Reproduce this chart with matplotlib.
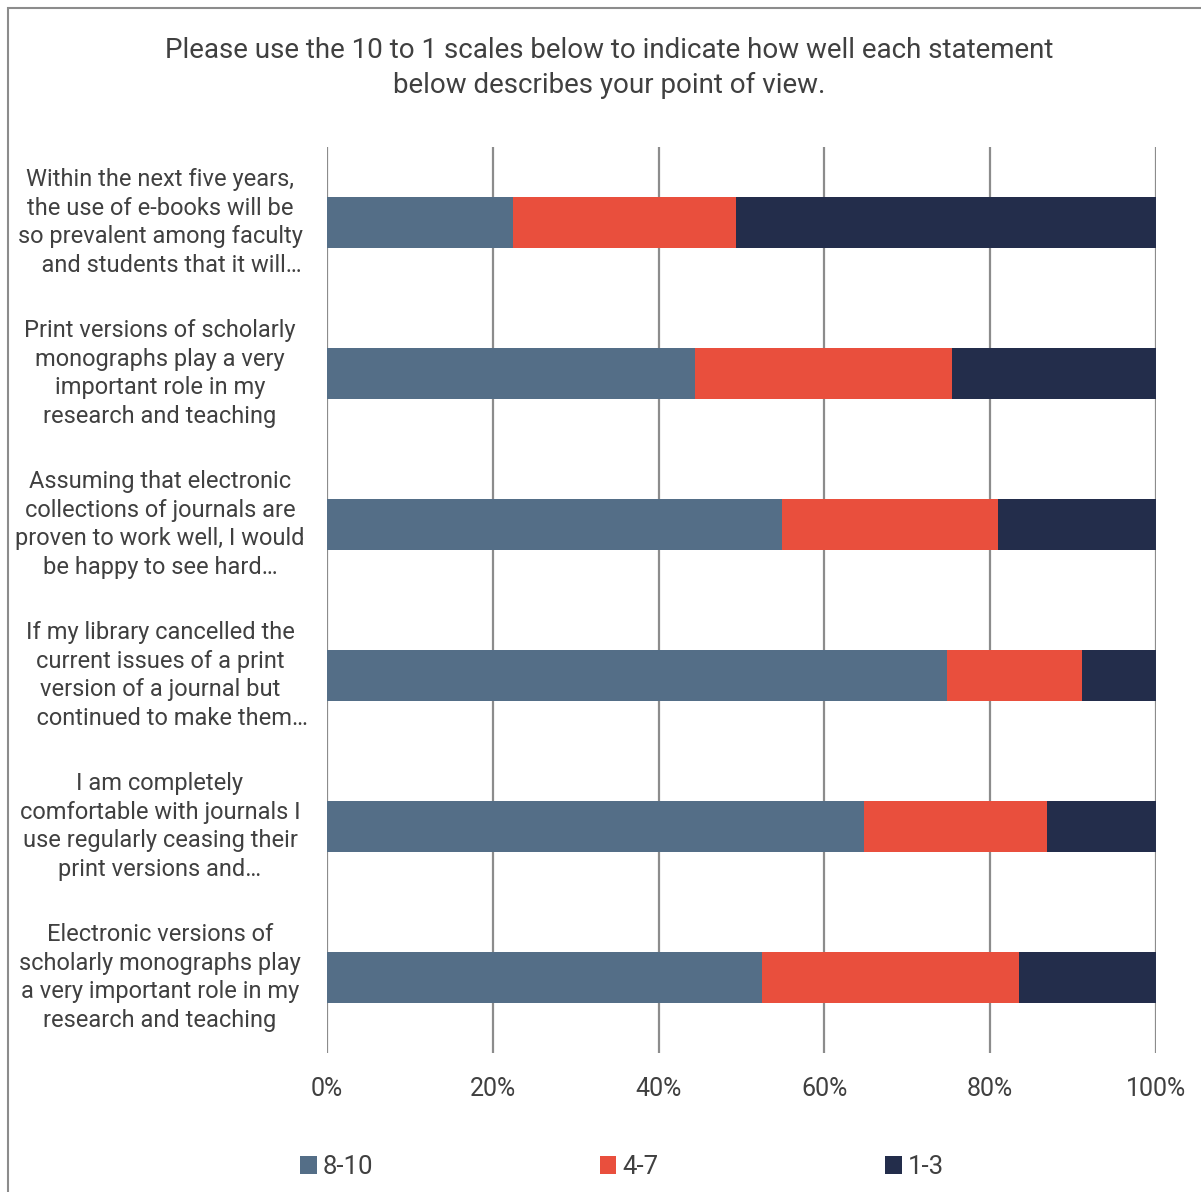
import matplotlib.pyplot as plt
import matplotlib.patches as mpatches
import numpy as np
from matplotlib import font_manager

fams = [f.name for f in font_manager.fontManager.ttflist]
narrow = 'Liberation Sans Narrow' if 'Liberation Sans Narrow' in fams else 'Roboto'
plt.rcParams['font.family'] = [narrow, 'DejaVu Sans']

title = ('Please use the 10 to 1 scales below to indicate how well each statement\n'
         'below describes your point of view.')

statements = [
    'Within the next five years,\nthe use of e-books will be\nso prevalent among faculty\n    and students that it will…',
    'Print versions of scholarly\nmonographs play a very\nimportant role in my\nresearch and teaching',
    'Assuming that electronic\ncollections of journals are\nproven to work well, I would\nbe happy to see hard…',
    'If my library cancelled the\ncurrent issues of a print\nversion of a journal but\n    continued to make them…',
    'I am completely\ncomfortable with journals I\nuse regularly ceasing their\nprint versions and…',
    'Electronic versions of\nscholarly monographs play\na very important role in my\nresearch and teaching',
]
series = ['8-10', '4-7', '1-3']
high = [22.4, 44.4, 54.9, 74.8, 64.8, 52.5]
mid = [26.9, 31.0, 26.0, 16.3, 22.1, 31.0]
low = [50.7, 24.6, 19.1, 8.9, 13.1, 16.5]
colors = ['#546e87', '#e94f3d', '#232d4b']
text_col = '#404040'

fig = plt.figure(figsize=(12.01, 11.92), dpi=100)
ax = fig.add_axes([327 / 1201, 139 / 1192, 829 / 1201, 906 / 1192])

y = np.arange(len(statements))
left = np.zeros(len(statements))
for name, vals, c in zip(series, [high, mid, low], colors):
    ax.barh(y, vals, left=left, height=0.34, color=c, label=name, zorder=2)
    left = left + np.array(vals)

ax.set_xlim(0, 100)
ax.set_ylim(len(statements) - 0.5, -0.5)
ax.set_xticks(np.arange(0, 101, 20))
ax.set_xticklabels([f'{v}%' for v in range(0, 101, 20)], fontsize=18, color=text_col)
ax.tick_params(axis='x', length=0, pad=17)
ax.set_yticks([])
ax.grid(axis='x', color='#8c8c8c', linewidth=1.6, zorder=0)
for s in ax.spines.values():
    s.set_visible(False)

for yi, txt in zip(y, statements):
    ax.text(-167 / 829, yi, txt, transform=ax.get_yaxis_transform(), ha='center', va='center',
            fontsize=17, color=text_col, linespacing=1.3)

fig.text(0.507, 0.943, title, ha='center', va='center', fontsize=20, color=text_col, linespacing=1.4)

fig.legend(loc='center', bbox_to_anchor=(0.518, 0.021), ncol=3, frameon=False, fontsize=18.5,
           handlelength=0.65, handleheight=0.7, handletextpad=0.25, columnspacing=8.8,
           labelcolor=text_col)

fig.patches.append(mpatches.Rectangle((8 / 1201, -0.1), 1.2, 1 - 8 / 1192 + 0.1, transform=fig.transFigure,
                                      fill=False, edgecolor='#8c8c8c', linewidth=1.5))

fig.savefig('out.png', dpi=100)
